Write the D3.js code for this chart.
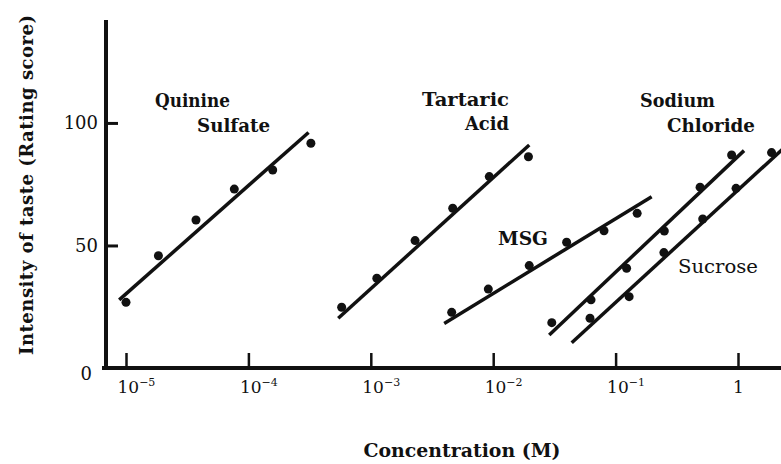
<!DOCTYPE html>
<html>
<head>
<meta charset="utf-8">
<script src="https://cdn.jsdelivr.net/npm/d3@7"></script>
<style>
  body { margin: 0; background: #fff; }
  text { font-family: "DejaVu Serif", "Liberation Serif", serif; fill: #111; }
</style>
</head>
<body>
<script>
// concentrations (M) and rating scores
let quinineConc  = [1e-5, 1.84e-5, 3.73e-5, 7.67e-5, 1.58e-4, 3.24e-4]
let quinineScore = [26.8, 45.8, 60.4, 73, 80.8, 91.7]
let quinineFit   = [[8.8e-6, 27.8], [3.1e-4, 96.1]]

let tartaricConc  = [5.78e-4, 1.12e-3, 2.30e-3, 4.67e-3, 9.29e-3, 1.94e-2]
let tartaricScore = [24.8, 36.6, 52, 65.2, 78.1, 86.2]
let tartaricFit   = [[5.42e-4, 20.3], [1.97e-2, 91]]

let msgConc  = [4.58e-3, 9.12e-3, 1.97e-2, 3.98e-2, 8.04e-2, 1.50e-1]
let msgScore = [22.7, 32.2, 41.8, 51.3, 56, 63.1]
let msgFit   = [[3.98e-3, 18.2], [0.197, 69.9]]

let naclConc  = [3.01e-2, 6.30e-2, 0.123, 0.250, 0.490, 0.887]
let naclScore = [18.5, 27.8, 40.7, 55.9, 73.8, 86.9]
let naclFit   = [[2.87e-2, 13.5], [1.12, 88.7]]

let sucroseConc  = [6.18e-2, 0.129, 0.248, 0.515, 0.964, 1.88]
let sucroseScore = [20.3, 29.1, 47.1, 60.8, 73.3, 87.9]
let sucroseFit   = [[4.38e-2, 10.3], [2.43, 90.3]]

let xTicks = [1e-5, 1e-4, 1e-3, 1e-2, 1e-1, 1]
let yTicks = [0, 50, 100]

let series = [
    {conc: quinineConc, score: quinineScore, fit: quinineFit},
    {conc: tartaricConc, score: tartaricScore, fit: tartaricFit},
    {conc: msgConc, score: msgScore, fit: msgFit},
    {conc: naclConc, score: naclScore, fit: naclFit},
    {conc: sucroseConc, score: sucroseScore, fit: sucroseFit}
]

// series name labels (pixel layout)
let labels = [
    {text: 'Quinine',  x: 155, y: 107, w: 75, bold: true},
    {text: 'Sulfate',  x: 197, y: 132, w: 73, bold: true},
    {text: 'Tartaric', x: 422, y: 106, w: 87, bold: true},
    {text: 'Acid',     x: 465, y: 130, w: 44, bold: true},
    {text: 'Sodium',   x: 640, y: 107, w: 75, bold: true},
    {text: 'Chloride', x: 667, y: 132, w: 88, bold: true},
    {text: 'MSG',      x: 498, y: 245, w: 50, bold: true},
    {text: 'Sucrose',  x: 678, y: 273, w: 80, bold: false}
]

let width = 781
let height = 464

let svg = d3.select('body').append('svg')
    .attr('width', width)
    .attr('height', height)

let xScale = d3.scaleLog()
    .domain([Math.pow(10, -5.1634), Math.pow(10, 0.3513)])
    .range([106, 781])

let yScale = d3.scaleLinear()
    .domain([0, 142])
    .range([368, 20])

// fitted lines
let line = d3.line()
    .x(d => xScale(d[0]))
    .y(d => yScale(d[1]))

svg.selectAll('path.fit')
    .data(series)
    .enter()
    .append('path')
    .attr('class', 'fit')
    .attr('d', d => line(d.fit))
    .attr('fill', 'none')
    .attr('stroke', '#111')
    .attr('stroke-width', 3.5)

// data points
series.forEach(s => {
    svg.append('g')
        .selectAll('circle')
        .data(s.conc.map((c, i) => [c, s.score[i]]))
        .enter()
        .append('circle')
        .attr('cx', d => xScale(d[0]))
        .attr('cy', d => yScale(d[1]))
        .attr('r', 4.5)
        .attr('fill', '#111')
})

// axes
let xAxis = d3.axisBottom(xScale)
    .tickValues(xTicks)
    .tickSize(-15)
    .tickSizeOuter(0)
    .tickPadding(13)
    .tickFormat(() => '')

let gx = svg.append('g')
    .attr('id', 'x-axis')
    .attr('transform', 'translate(0, 368)')
    .call(xAxis)

gx.select('.domain').remove()
gx.selectAll('.tick line').attr('stroke', '#111').attr('stroke-width', 2.5)

gx.selectAll('.tick text')
    .attr('font-size', 17)
    .attr('fill', '#111')
    .each(function(d) {
        let t = d3.select(this)
        let p = Math.round(Math.log10(d))
        if (p === 0) {
            t.text('1')
        } else {
            t.attr('text-anchor', 'start').attr('dx', -9)
            t.append('tspan').text('10')
            t.append('tspan')
                .attr('font-size', 11)
                .attr('dy', -7)
                .text('\u2212' + Math.abs(p))
        }
    })

svg.append('line')
    .attr('x1', 102).attr('x2', 781)
    .attr('y1', 368).attr('y2', 368)
    .attr('stroke', '#111')
    .attr('stroke-width', 4)

let yAxis = d3.axisLeft(yScale)
    .tickValues(yTicks)
    .tickSize(-12)
    .tickSizeOuter(0)
    .tickPadding(8)

let gy = svg.append('g')
    .attr('id', 'y-axis')
    .attr('transform', 'translate(106, 0)')
    .call(yAxis)

gy.select('.domain').remove()
gy.selectAll('.tick line').attr('stroke', '#111').attr('stroke-width', 3)
gy.selectAll('.tick text')
    .attr('font-size', 18)
    .attr('fill', '#111')
    .attr('dx', d => d === 0 ? -6 : 0)
    .attr('dy', d => d === 0 ? '0.62em' : '0.32em')

svg.append('line')
    .attr('x1', 106).attr('x2', 106)
    .attr('y1', 20).attr('y2', 370)
    .attr('stroke', '#111')
    .attr('stroke-width', 4)

// series labels
svg.selectAll('text.lbl')
    .data(labels)
    .enter()
    .append('text')
    .attr('class', 'lbl')
    .attr('x', d => d.x)
    .attr('y', d => d.y)
    .attr('font-size', 18)
    .attr('font-weight', d => d.bold ? 'bold' : 'normal')
    .attr('textLength', d => d.w)
    .attr('lengthAdjust', 'spacingAndGlyphs')
    .text(d => d.text)

// axis titles
svg.append('text')
    .attr('x', 462)
    .attr('y', 457)
    .attr('text-anchor', 'middle')
    .attr('font-size', 19)
    .attr('font-weight', 'bold')
    .attr('textLength', 197)
    .attr('lengthAdjust', 'spacingAndGlyphs')
    .text('Concentration (M)')

svg.append('text')
    .attr('transform', 'translate(33, 185) rotate(-90)')
    .attr('text-anchor', 'middle')
    .attr('font-size', 18)
    .attr('font-weight', 'bold')
    .attr('textLength', 340)
    .attr('lengthAdjust', 'spacing')
    .text('Intensity of taste (Rating score)')
</script>
</body>
</html>
